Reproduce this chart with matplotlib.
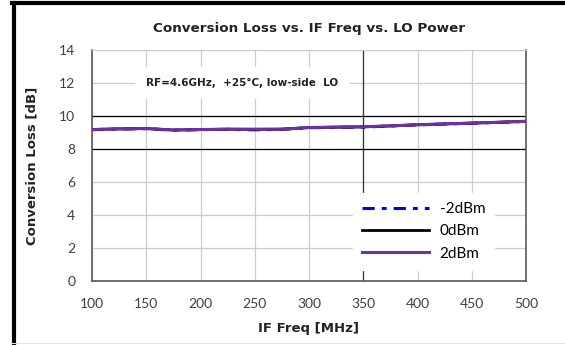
import matplotlib
matplotlib.use("Agg")
import matplotlib.pyplot as plt
from matplotlib.lines import Line2D

# IF frequency sweep (MHz) and conversion loss (dB) per LO drive level
if_freq = [100, 125, 150, 175, 200, 225, 250, 275, 300, 325, 350, 375, 400, 425, 450, 475, 500]
cl_m2dbm = [9.17, 9.21, 9.23, 9.14, 9.17, 9.19, 9.16, 9.19, 9.29, 9.31, 9.33, 9.39, 9.46, 9.51, 9.56, 9.61, 9.67]
cl_0dbm = [9.18, 9.22, 9.24, 9.15, 9.18, 9.20, 9.19, 9.20, 9.30, 9.32, 9.34, 9.40, 9.47, 9.52, 9.57, 9.62, 9.68]
cl_2dbm = [9.18, 9.22, 9.24, 9.15, 9.18, 9.20, 9.20, 9.20, 9.30, 9.33, 9.35, 9.40, 9.47, 9.52, 9.57, 9.62, 9.68]
series_labels = ["-2dBm", "0dBm", "2dBm"]
x_ticks = [100, 150, 200, 250, 300, 350, 400, 450, 500]
y_ticks = [0, 2, 4, 6, 8, 10, 12, 14]

tick_font = "Lato"
fig = plt.figure(figsize=(5.65, 3.45), dpi=100)
ax = fig.add_axes([92 / 565, 64 / 345, 434 / 565, 231 / 345])

ax.set_xlim(100, 500)
ax.set_ylim(0, 14)
ax.set_xticks(x_ticks)
ax.set_yticks(y_ticks)
ax.tick_params(length=0, labelsize=10, colors="#404040")
ax.tick_params(axis="x", pad=12)
ax.tick_params(axis="y", pad=12)
for lab in ax.get_xticklabels() + ax.get_yticklabels():
    lab.set_fontfamily(tick_font)

# grid: mostly light grey, a few darker lines as in the source
ax.grid(True, color="#cccccc", linewidth=0.9, zorder=0)
for yv in (8, 10):
    ax.axhline(yv, color="black", linewidth=0.9, zorder=2)
ax.axvline(350, color="#333333", linewidth=0.9, zorder=2)

for side in ("left", "bottom", "right"):
    ax.spines[side].set_color("#595959")
    ax.spines[side].set_linewidth(1.2)
ax.spines["top"].set_color("#cccccc")

ax.plot(if_freq, cl_m2dbm, color="#0000ff", linewidth=2.2, dashes=(4, 2.3, 1.6, 2.3),
        label=series_labels[0], zorder=3)
ax.plot(if_freq, cl_0dbm, color="black", linewidth=2.0, label=series_labels[1], zorder=4)
ax.plot(if_freq, cl_2dbm, color="#7030a0", linewidth=2.2, label=series_labels[2], zorder=5)

leg = ax.legend(loc="lower right", bbox_to_anchor=(0.945, 0.015), frameon=True,
                fancybox=False, edgecolor="white", facecolor="white", framealpha=1,
                handlelength=4.4, handletextpad=0.7, labelspacing=0.55,
                prop={"family": tick_font, "size": 11}, borderpad=0.6)
leg.set_zorder(6)

ax.text(150, 12, "RF=4.6GHz,  +25\u00b0C, low-side  LO", fontsize=7.5, fontweight="bold",
        color="#222222", va="center", ha="left", zorder=6,
        bbox=dict(facecolor="white", edgecolor="none", pad=8))

ax.set_title("Conversion Loss vs. IF Freq vs. LO Power", fontsize=9.7, fontweight="bold",
             color="#222222", pad=13)
ax.set_xlabel("IF Freq [MHz]", fontsize=9.5, fontweight="bold", color="#222222", labelpad=9)
ax.set_ylabel("Conversion Loss [dB]", fontsize=9.5, fontweight="bold", color="#222222", labelpad=15)

# outer frame of the original figure
fig.add_artist(Line2D([14 / 565, 14 / 565], [0, 342 / 345], color="black", linewidth=3,
                      transform=fig.transFigure))
fig.add_artist(Line2D([12 / 565, 1], [342 / 345, 342 / 345], color="black", linewidth=3,
                      transform=fig.transFigure))
fig.add_artist(Line2D([12 / 565, 1], [2 / 345, 2 / 345], color="#e0e0e0", linewidth=0.8,
                      transform=fig.transFigure))

fig.savefig("out.png", dpi=100)
